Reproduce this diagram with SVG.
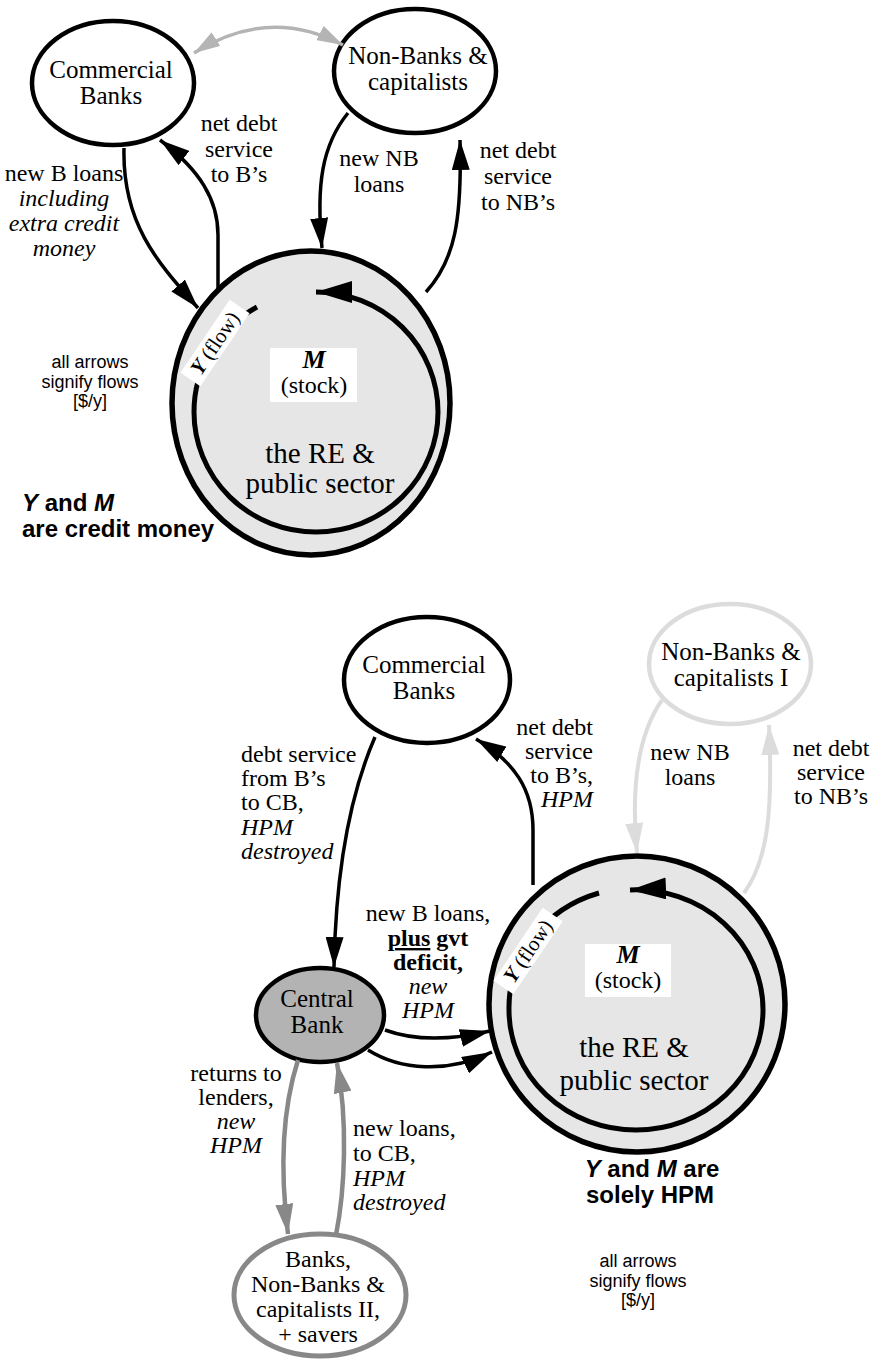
<svg xmlns="http://www.w3.org/2000/svg" width="870" height="1360" viewBox="0 0 870 1360">
<style>
.node{fill:#fff;stroke:#000;stroke-width:4.5}
.big{fill:#e6e6e6;stroke:#000;stroke-width:5.5}
.loop{fill:none;stroke:#000;stroke-width:5}
.t{font-family:"Liberation Serif","Times New Roman",serif;font-size:25px;fill:#000;text-anchor:middle}
.l{font-family:"Liberation Serif","Times New Roman",serif;font-size:24px;fill:#000}
.c{text-anchor:middle}
.e{text-anchor:end}
.i{font-style:italic}
.b{font-weight:bold}
.s{font-family:"Liberation Sans",Arial,sans-serif;font-size:18px;fill:#000;text-anchor:middle}
.h{font-family:"Liberation Sans",Arial,sans-serif;font-size:24px;font-weight:bold;fill:#000}
.re{font-family:"Liberation Serif","Times New Roman",serif;font-size:29px;fill:#000;text-anchor:middle}
.ar{fill:none;stroke:#000;stroke-width:3.5}
.arg{fill:none;stroke:#888;stroke-width:4.5}
.arlg{fill:none;stroke:#dcdcdc;stroke-width:4}
.ar2{fill:none;stroke:#b4b4b4;stroke-width:3.5}
</style>
<defs>
<marker id="ab" viewBox="0 0 30 18" refX="30" refY="9" markerWidth="30" markerHeight="18" markerUnits="userSpaceOnUse" orient="auto"><path d="M0,0 L30,9 L0,18 z" fill="#000"/></marker>
<marker id="abig" viewBox="0 0 36 22" refX="36" refY="11" markerWidth="36" markerHeight="22" markerUnits="userSpaceOnUse" orient="auto"><path d="M0,0 L36,11 L0,22 z" fill="#000"/></marker>
<marker id="ag" viewBox="0 0 30 18" refX="30" refY="9" markerWidth="30" markerHeight="18" markerUnits="userSpaceOnUse" orient="auto"><path d="M0,0 L30,9 L0,18 z" fill="#888"/></marker>
<marker id="alg" viewBox="0 0 30 18" refX="30" refY="9" markerWidth="30" markerHeight="18" markerUnits="userSpaceOnUse" orient="auto"><path d="M0,0 L30,9 L0,18 z" fill="#dcdcdc"/></marker>
<marker id="a2" viewBox="0 0 26 16" refX="26" refY="8" markerWidth="26" markerHeight="16" markerUnits="userSpaceOnUse" orient="auto-start-reverse"><path d="M0,0 L26,8 L0,16 z" fill="#b4b4b4"/></marker>
</defs>

<!-- ===== TOP DIAGRAM ===== -->
<g id="top-re">
<ellipse class="big" cx="311" cy="403" rx="139" ry="152"/>
<path class="loop" d="M257,307 A122,120 0 0 0 194,412 A122,120 0 0 0 316,532 A122,120 0 0 0 438,412 A122,120 0 0 0 316,292" marker-end="url(#abig)"/>
<g transform="translate(215,343) rotate(-56)">
<rect x="-44" y="-12" width="88" height="24" fill="#fff"/>
<text class="l c" x="0" y="7" style="font-size:21px"><tspan class="b i">Y</tspan> (flow)</text>
</g>
<rect x="270" y="348" width="87" height="54" fill="#fff"/>
<text class="t b i" x="314" y="368" style="font-size:26px">M</text>
<text class="t" x="314" y="393" style="font-size:24px">(stock)</text>
<text class="re" x="320" y="463">the RE &amp;</text>
<text class="re" x="320" y="493">public sector</text>
</g>

<g id="top-cb">
<ellipse class="node" cx="113" cy="83" rx="81" ry="62"/>
<text class="t" x="111" y="78">Commercial</text>
<text class="t" x="111" y="104">Banks</text>
</g>

<g id="top-nb">
<ellipse class="node" cx="415" cy="71" rx="81" ry="62"/>
<text class="t" x="418" y="64">Non-Banks &amp;</text>
<text class="t" x="418" y="90">capitalists</text>
</g>

<g id="top-connectors">
<path class="ar2" d="M194,53 Q268,6 343,45" marker-start="url(#a2)" marker-end="url(#a2)"/>
<path class="ar" d="M124,148 C122,225 160,265 198,308" marker-end="url(#ab)"/>
<path class="ar" d="M218,290 L218,235 C218,200 200,170 160,140" marker-end="url(#ab)"/>
<path class="ar" d="M348,113 C322,145 316,185 322,248" marker-end="url(#ab)"/>
<path class="ar" d="M426,292 C455,260 462,220 460,140" marker-end="url(#ab)"/>
</g>

<g id="top-labels">
<text class="l c" x="64" y="181">new B loans</text>
<text class="l c i" x="64" y="206">including</text>
<text class="l c i" x="64" y="231">extra credit</text>
<text class="l c i" x="64" y="256">money</text>
<text class="l c" x="239" y="131">net debt</text>
<text class="l c" x="239" y="157">service</text>
<text class="l c" x="239" y="182">to B’s</text>
<text class="l c" x="379" y="166">new NB</text>
<text class="l c" x="379" y="192">loans</text>
<text class="l c" x="518" y="158">net debt</text>
<text class="l c" x="518" y="184">service</text>
<text class="l c" x="518" y="210">to NB’s</text>
<text class="s" x="90" y="368">all arrows</text>
<text class="s" x="90" y="388">signify flows</text>
<text class="s" x="90" y="407">[$/y]</text>
<text class="h" x="22" y="511"><tspan font-style="italic">Y</tspan> and <tspan font-style="italic">M</tspan></text>
<text class="h" x="22" y="537">are credit money</text>
</g>

<!-- ===== BOTTOM DIAGRAM ===== -->
<g id="bot-re">
<circle class="big" cx="637" cy="1004" r="148"/>
<path class="loop" d="M599,893 A127,120 0 0 0 509,1010 A127,120 0 0 0 636,1130 A127,120 0 0 0 763,1010 A127,120 0 0 0 630,890" marker-end="url(#abig)"/>
<g transform="translate(528,951) rotate(-56)">
<rect x="-44" y="-12" width="88" height="24" fill="#fff"/>
<text class="l c" x="0" y="7" style="font-size:21px"><tspan class="b i">Y</tspan> (flow)</text>
</g>
<rect x="585" y="944" width="86" height="53" fill="#fff"/>
<text class="t b i" x="628" y="963" style="font-size:26px">M</text>
<text class="t" x="628" y="988" style="font-size:24px">(stock)</text>
<text class="re" x="634" y="1057">the RE &amp;</text>
<text class="re" x="634" y="1090">public sector</text>
</g>

<g id="bot-cb">
<ellipse class="node" cx="427" cy="680" rx="83" ry="63"/>
<text class="t" x="424" y="673">Commercial</text>
<text class="t" x="424" y="699">Banks</text>
</g>

<g id="bot-nb1">
<ellipse class="node" cx="730" cy="664" rx="81" ry="60" style="stroke:#dcdcdc"/>
<text class="t" x="731" y="660">Non-Banks &amp;</text>
<text class="t" x="731" y="686">capitalists I</text>
</g>

<g id="bot-central">
<ellipse class="node" cx="320" cy="1015" rx="64" ry="47" style="fill:#b3b3b3"/>
<text class="t" x="317" y="1007">Central</text>
<text class="t" x="317" y="1033">Bank</text>
</g>

<g id="bot-nb2">
<ellipse class="node" cx="320" cy="1295" rx="86" ry="61" style="stroke:#888;stroke-width:5"/>
<text class="t" x="318" y="1267" style="font-size:24px">Banks,</text>
<text class="t" x="318" y="1292" style="font-size:24px">Non-Banks &amp;</text>
<text class="t" x="318" y="1317" style="font-size:24px">capitalists II,</text>
<text class="t" x="318" y="1342" style="font-size:24px">+ savers</text>
</g>

<g id="bot-connectors">
<path class="ar" d="M375,737 C352,790 336,860 334,967" marker-end="url(#ab)"/>
<path class="ar" d="M533,885 L533,830 C533,790 515,762 476,739" marker-end="url(#ab)"/>
<path class="ar" d="M385,1030 C415,1041 452,1040 490,1031" marker-end="url(#ab)"/>
<path class="ar" d="M368,1050 C400,1070 447,1074 492,1052" marker-end="url(#ab)"/>
<path class="arg" d="M298,1060 C282,1110 280,1170 288,1234" marker-end="url(#ag)"/>
<path class="arg" d="M336,1235 C345,1190 348,1120 337,1063" marker-end="url(#ag)"/>
<path class="arlg" d="M662,700 C634,740 632,800 637,853" marker-end="url(#alg)"/>
<path class="arlg" d="M744,893 C768,860 773,810 769,725" marker-end="url(#alg)"/>
</g>

<g id="bot-labels">
<text class="l" x="241" y="762">debt service</text>
<text class="l" x="241" y="786">from B’s</text>
<text class="l" x="241" y="810">to CB,</text>
<text class="l i" x="241" y="835">HPM</text>
<text class="l i" x="241" y="859">destroyed</text>
<text class="l e" x="593" y="735">net debt</text>
<text class="l e" x="593" y="759">service</text>
<text class="l e" x="593" y="783">to B’s,</text>
<text class="l e i" x="593" y="807">HPM</text>
<text class="l c" x="690" y="760">new NB</text>
<text class="l c" x="690" y="785">loans</text>
<text class="l c" x="831" y="756">net debt</text>
<text class="l c" x="831" y="780">service</text>
<text class="l c" x="831" y="804">to NB’s</text>
<text class="l c" x="428" y="921">new B loans,</text>
<text class="l c b" x="428" y="946"><tspan text-decoration="underline">plus</tspan> gvt</text>
<text class="l c b" x="428" y="970">deficit,</text>
<text class="l c i" x="428" y="994">new</text>
<text class="l c i" x="428" y="1018">HPM</text>
<text class="l c" x="236" y="1081">returns to</text>
<text class="l c" x="236" y="1105">lenders,</text>
<text class="l c i" x="236" y="1129">new</text>
<text class="l c i" x="236" y="1153">HPM</text>
<text class="l" x="353" y="1136">new loans,</text>
<text class="l" x="353" y="1161">to CB,</text>
<text class="l i" x="353" y="1186">HPM</text>
<text class="l i" x="353" y="1210">destroyed</text>
<text class="h c" x="652" y="1177" text-anchor="middle"><tspan font-style="italic">Y</tspan> and <tspan font-style="italic">M</tspan> are</text>
<text class="h" x="650" y="1203" text-anchor="middle">solely HPM</text>
<text class="s" x="638" y="1267">all arrows</text>
<text class="s" x="638" y="1287">signify flows</text>
<text class="s" x="638" y="1306">[$/y]</text>
</g>
</svg>
